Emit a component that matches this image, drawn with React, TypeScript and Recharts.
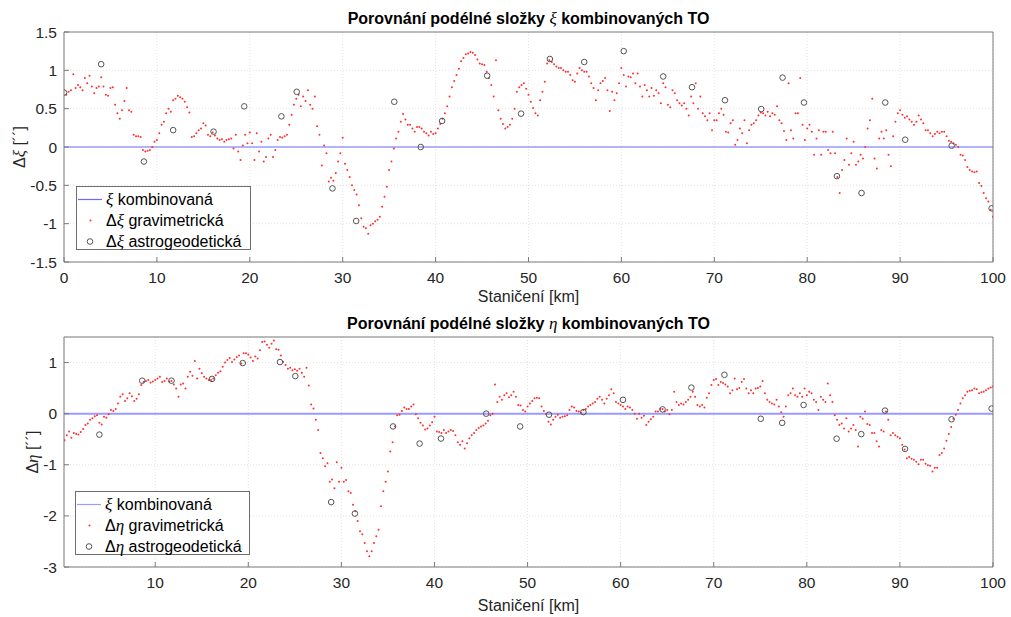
import React from 'react';
import { ComposedChart, Scatter, Line, XAxis, YAxis, CartesianGrid } from 'recharts';

const FONT = '"Liberation Sans", Arial, Helvetica, sans-serif';
const TEX = '"Liberation Serif", "DejaVu Serif", serif';

// gravimetrické body jsou po 0.25 km, první na 0.25 km
const GRAV_STEP = 0.25;

const astroStaniceni = [
  0.0, 4.0, 8.6, 11.75, 16.1, 19.4, 23.4, 25.05, 28.9, 31.45, 35.55, 38.4, 40.7, 45.55, 49.2,
  52.3, 56.0, 60.25, 64.5, 67.6, 71.15, 75.05, 77.35, 79.65, 83.2, 85.85, 88.4, 90.55, 95.55, 99.85,
];
const xiAstro = [
  0.71, 1.08, -0.19, 0.22, 0.2, 0.53, 0.4, 0.72, -0.54, -0.965, 0.59, 0.0, 0.34, 0.93, 0.435,
  1.148, 1.109, 1.25, 0.92, 0.78, 0.61, 0.495, 0.905, 0.58, -0.38, -0.6, 0.58, 0.095, 0.017, -0.8,
];
const etaAstro = [
  null, -0.41, 0.645, 0.645, 0.68, 0.99, 1.01, 0.735, -1.73, -1.955, -0.25, -0.585, -0.487, 0.0, -0.25,
  -0.02, 0.03, 0.27, 0.085, 0.51, 0.76, -0.1, -0.18, 0.17, -0.49, -0.4, 0.06, -0.69, -0.11, 0.1,
];

const xiGrav = [
  0.68, 0.72, 0.74, 0.95, 0.77, 0.81, 0.78, 0.74, 0.9, 0.83, 0.93, 0.79, 0.7, 0.77, 0.79, 0.91, 0.79, 0.68, 0.67, 0.77,
  0.78, 0.55, 0.44, 0.37, 0.48, 0.6, 0.77, 0.48, 0.46, 0.16, 0.14, 0.14, 0.13, -0.04, -0.06, -0.05, -0.04, 0.0, 0.07, 0.09,
  0.18, 0.29, 0.33, 0.44, 0.5, 0.46, 0.61, 0.63, 0.67, 0.65, 0.63, 0.59, 0.52, 0.45, 0.13, 0.14, 0.18, 0.22, 0.24, 0.31,
  0.28, 0.16, 0.14, 0.19, 0.15, 0.11, 0.09, 0.1, 0.07, 0.09, 0.1, 0.11, -0.02, 0.16, -0.06, -0.17, 0.02, 0.16, 0.05, 0.19,
  0.05, -0.17, 0.18, -0.06, 0.07, -0.19, -0.13, 0.11, 0.16, -0.13, -0.04, 0.09, 0.13, 0.12, 0.14, 0.16, 0.29, 0.42, 0.55, 0.63,
  0.68, 0.53, 0.66, 0.6, 0.74, 0.55, 0.5, 0.66, 0.27, 0.16, -0.24, 0.02, -0.08, -0.45, -0.4, -0.44, -0.34, -0.19, -0.08, 0.12,
  -0.22, -0.3, -0.39, -0.5, -0.56, -0.62, -0.76, -0.93, -1.04, -1.06, -1.13, -1.02, -1.0, -0.97, -0.95, -0.91, -0.78, -0.65, -0.52, -0.3,
  -0.19, -0.02, 0.11, 0.2, 0.33, 0.43, 0.36, 0.29, 0.29, 0.24, 0.2, 0.26, 0.26, 0.24, 0.2, 0.18, 0.15, 0.2, 0.17, 0.18,
  0.24, 0.3, 0.37, 0.44, 0.53, 0.66, 0.78, 0.86, 0.94, 1.02, 1.12, 1.16, 1.21, 1.22, 1.24, 1.23, 1.2, 1.14, 1.09, 1.08,
  1.07, 0.98, 0.9, 0.81, 0.66, 1.13, 0.48, 0.37, 0.3, 0.24, 0.26, 0.29, 0.37, 0.5, 0.72, 0.78, 0.81, 0.83, 0.76, 0.68,
  0.59, 0.51, 0.44, 0.41, 0.61, 0.72, 0.85, 1.09, 1.13, 1.11, 1.08, 1.05, 1.03, 1.03, 1.0, 0.98, 0.98, 0.94, 0.87, 0.85,
  0.96, 1.03, 1.0, 0.98, 0.98, 0.92, 0.83, 0.77, 0.61, 0.74, 0.83, 0.86, 0.9, 0.74, 0.47, 0.72, 0.61, 0.7, 0.83, 1.03,
  0.94, 0.79, 0.92, 0.91, 0.96, 0.83, 0.96, 0.79, 0.66, 0.81, 0.74, 0.66, 0.77, 0.67, 0.74, 0.7, 0.57, 0.83, 0.78, 0.55,
  0.52, 0.74, 0.7, 0.61, 0.57, 0.54, 0.57, 0.5, 0.41, 0.66, 0.57, 0.83, 0.5, 0.66, 0.44, 0.4, 0.35, 0.44, 0.22, 0.35,
  0.35, 0.44, 0.5, 0.42, 0.2, 0.19, 0.31, 0.35, 0.03, 0.09, 0.24, 0.18, 0.35, 0.05, 0.22, 0.29, 0.31, 0.35, 0.41, 0.45,
  0.44, 0.41, 0.46, 0.4, 0.44, 0.42, 0.53, 0.35, 0.31, 0.21, 0.09, 0.83, 0.22, 0.11, 0.44, 0.44, 0.9, 0.29, 0.09, 0.24,
  0.29, 0.2, -0.1, 0.11, 0.22, -0.1, 0.2, 0.2, -0.04, -0.08, 0.2, -0.08, -0.39, -0.6, -0.3, -0.17, 0.11, -0.23, -0.08, 0.07,
  -0.23, -0.19, -0.1, -0.15, 0.0, 0.24, 0.35, 0.63, -0.15, -0.28, 0.11, 0.2, 0.11, 0.22, -0.1, -0.25, 0.14, 0.33, 0.44, 0.48,
  0.42, 0.38, 0.4, 0.36, 0.33, 0.29, 0.33, 0.41, 0.36, 0.31, 0.22, 0.22, 0.18, 0.14, 0.17, 0.2, 0.18, 0.2, 0.2, 0.14,
  0.08, 0.07, 0.05, 0.03, 0.0, -0.1, -0.11, -0.17, -0.26, -0.3, -0.32, -0.33, -0.32, -0.47, -0.51, -0.6, -0.67, -0.71, -0.82, -0.91,
];

const etaGrav = [
  -0.52, -0.42, -0.35, -0.47, -0.38, -0.4, -0.41, -0.36, -0.3, -0.22, -0.19, -0.12, -0.09, -0.05, -0.03, -0.18, -0.21, -0.06, -0.08, -0.01,
  0.07, 0.05, 0.09, 0.2, 0.33, 0.38, 0.25, 0.3, 0.4, 0.34, 0.25, 0.29, 0.38, 0.56, 0.62, 0.64, 0.66, 0.61, 0.63, 0.66,
  0.69, 0.72, 0.62, 0.64, 0.69, 0.63, 0.64, 0.57, 0.49, 0.33, 0.57, 0.59, 0.49, 0.72, 0.82, 0.74, 1.03, 0.69, 0.88, 0.79,
  0.72, 0.69, 0.66, 0.66, 0.69, 0.75, 0.8, 0.83, 0.92, 1.0, 1.05, 1.09, 1.01, 1.06, 1.11, 1.14, 0.98, 1.18, 1.18, 1.16,
  1.1, 1.03, 1.12, 1.08, 1.24, 1.4, 1.41, 1.35, 1.29, 1.37, 1.43, 1.26, 1.25, 1.14, 1.01, 0.95, 0.88, 0.9, 0.85, 0.87,
  0.84, 0.88, 0.8, 0.72, 0.9, 0.55, 0.18, 0.1, -0.12, -0.32, -0.77, -0.87, -1.03, -0.97, -1.33, -1.29, -1.46, -0.95, -1.33, -1.06,
  -1.33, -1.3, -1.52, -1.55, -1.78, -1.91, -2.1, -2.3, -2.36, -2.53, -2.69, -2.79, -2.69, -2.53, -2.4, -2.27, -1.81, -1.52, -1.33, -1.13,
  -0.74, -0.56, -0.25, -0.03, -0.02, 0.05, 0.12, 0.09, 0.09, 0.14, 0.18, -0.01, -0.09, -0.18, -0.23, -0.31, -0.29, -0.23, -0.17, -0.06,
  -0.35, -0.36, -0.38, -0.32, -0.38, -0.35, -0.32, -0.34, -0.42, -0.56, -0.61, -0.54, -0.68, -0.58, -0.48, -0.42, -0.38, -0.32, -0.28, -0.25,
  -0.23, -0.19, -0.14, -0.03, 0.0, 0.57, 0.23, 0.33, 0.27, 0.36, 0.4, 0.32, 0.36, 0.43, 0.33, 0.17, 0.16, 0.07, 0.04, 0.14,
  0.2, 0.25, 0.3, 0.31, 0.3, 0.14, 0.05, -0.01, -0.16, -0.21, -0.12, -0.06, -0.02, -0.08, -0.06, -0.05, -0.03, 0.07, 0.14, 0.12,
  0.05, 0.04, 0.02, 0.07, 0.09, 0.14, 0.17, 0.2, 0.23, 0.29, 0.33, 0.27, 0.2, 0.29, 0.36, 0.48, 0.4, 0.23, 0.2, 0.17,
  0.14, 0.09, 0.14, 0.12, 0.07, 0.0, -0.1, 0.0, -0.08, -0.04, -0.22, -0.16, -0.11, -0.06, 0.04, 0.04, 0.09, 0.09, 0.04, 0.07,
  -0.01, 0.07, 0.43, 0.23, 0.17, 0.2, 0.18, 0.23, 0.27, 0.33, 0.43, 0.33, 0.17, 0.14, 0.17, 0.12, 0.31, 0.4, 0.56, 0.66,
  0.68, 0.56, 0.62, 0.6, 0.57, 0.53, 0.4, 0.46, 0.69, 0.48, 0.5, 0.62, 0.68, 0.49, 0.4, 0.46, 0.4, 0.49, 0.5, 0.53,
  0.64, 0.4, 0.27, 0.23, 0.2, 0.18, 0.27, 0.14, 0.03, -0.06, 0.14, 0.36, 0.4, 0.49, 0.36, 0.33, 0.4, 0.33, 0.49, 0.36,
  0.43, 0.4, 0.27, 0.23, 0.07, 0.33, 0.27, 0.23, 0.59, 0.36, 0.23, -0.03, -0.12, -0.22, -0.19, -0.29, -0.09, -0.35, -0.29, -0.22,
  -0.32, -0.64, -0.06, -0.1, 0.04, -0.2, -0.22, -0.38, -0.38, -0.54, -0.64, -0.32, -0.35, 0.04, -0.12, -0.42, -0.38, -0.42, -0.45, -0.48,
  -0.61, -0.7, -0.87, -0.85, -0.88, -0.9, -0.94, -0.99, -0.9, -0.9, -0.98, -1.01, -1.02, -1.13, -1.06, -1.06, -0.81, -0.77, -0.68, -0.53,
  -0.4, -0.26, -0.1, -0.02, 0.07, 0.2, 0.3, 0.36, 0.43, 0.45, 0.46, 0.49, 0.48, 0.4, 0.42, 0.43, 0.46, 0.49, 0.51, 0.53,
];

// ξ kombinovaná – rozdíl sama se sebou, tedy nulová čára
const kombX = [0, 100];
const kombY = [0, 0];

const xTicksXi = [0, 10, 20, 30, 40, 50, 60, 70, 80, 90, 100];
const xTicksEta = [10, 20, 30, 40, 50, 60, 70, 80, 90, 100];
const yTicksXi = [-1.5, -1, -0.5, 0, 0.5, 1, 1.5];
const yTicksEta = [-3, -2, -1, 0, 1];

const toGravRows = (vals: number[]) => vals.map((y, i) => ({ x: (i + 1) * GRAV_STEP, y }));
const toAstroRows = (vals: (number | null)[]) =>
  astroStaniceni.map((x, i) => ({ x, y: vals[i] })).filter((r) => r.y !== null);
const kombRows = kombX.map((x, i) => ({ x, y: kombY[i] }));

const AXIS = '#7a7a7a';
const RED = '#ff3030';

const RedDot = (p: any) => <circle cx={p.cx} cy={p.cy} r={1} fill={RED} />;
const Ring = (p: any) => <circle cx={p.cx} cy={p.cy} r={2.8} fill="none" stroke="#555" strokeWidth={1} />;

type PanelProps = {
  top: number;
  height: number;
  margin: { top: number; right: number; bottom: number; left: number };
  xDomain: [number, number];
  xTicks: number[];
  yDomain: [number, number];
  yTicks: number[];
  grav: number[];
  astro: (number | null)[];
  lineColor: string;
  lineWidth: number;
};

const Panel = ({ top, height, margin, xDomain, xTicks, yDomain, yTicks, grav, astro, lineColor, lineWidth }: PanelProps) => {
  const tickStyle = { fill: '#262626', fontSize: 15.5, fontFamily: FONT };
  return (
    <div style={{ position: 'absolute', left: 0, top }}>
      <ComposedChart width={1011} height={height} margin={margin}>
        <CartesianGrid stroke="#e2e2e2" strokeDasharray="1 2" />
        <XAxis
          dataKey="x" type="number" domain={xDomain} ticks={xTicks} allowDataOverflow interval={0}
          height={30} tickSize={-5} tickMargin={15} tick={tickStyle} stroke={AXIS}
        />
        <XAxis
          xAxisId="top" orientation="top" mirror type="number" domain={xDomain} ticks={xTicks}
          allowDataOverflow interval={0} tick={false} tickSize={5} stroke={AXIS}
        />
        <YAxis
          type="number" domain={yDomain} ticks={yTicks} allowDataOverflow interval={0}
          width={56} tickSize={-5} tickMargin={12} tick={tickStyle} stroke={AXIS}
        />
        <YAxis
          yAxisId="right" orientation="right" mirror type="number" domain={yDomain} ticks={yTicks}
          allowDataOverflow interval={0} tick={false} tickSize={5} stroke={AXIS}
        />
        <Line data={kombRows} dataKey="y" stroke={lineColor} strokeWidth={lineWidth} dot={false} isAnimationActive={false} />
        <Scatter data={toGravRows(grav)} dataKey="y" shape={RedDot} isAnimationActive={false} />
        <Scatter data={toAstroRows(astro)} dataKey="y" shape={Ring} isAnimationActive={false} />
      </ComposedChart>
    </div>
  );
};

const Title = ({ y, sym }: { y: number; sym: string }) => (
  <div
    style={{
      position: 'absolute', left: 64, width: 929, top: y - 9, lineHeight: '18px', textAlign: 'center',
      fontFamily: FONT, fontWeight: 'bold', fontSize: 16, color: '#000', whiteSpace: 'nowrap',
    }}
  >
    Porovnání podélné složky <span style={{ fontFamily: TEX, fontStyle: 'italic', fontWeight: 'normal', fontSize: 17 }}>{sym}</span> kombinovaných TO
  </div>
);

const XLabel = ({ y }: { y: number }) => (
  <div
    style={{
      position: 'absolute', left: 64, width: 929, top: y - 9, lineHeight: '18px', textAlign: 'center',
      fontFamily: FONT, fontSize: 16, color: '#262626',
    }}
  >
    Staničení [km]
  </div>
);

const YLabel = ({ x, y, sym }: { x: number; y: number; sym: string }) => (
  <div
    style={{
      position: 'absolute', left: x, top: y, transform: 'translate(-50%, -50%) rotate(-90deg)',
      fontFamily: FONT, fontSize: 16, color: '#262626', whiteSpace: 'nowrap', lineHeight: '18px',
    }}
  >
    Δ<span style={{ fontFamily: TEX, fontStyle: 'italic', fontSize: 17 }}>{sym}</span> [´´]
  </div>
);

const LegendBox = ({ x, y, sym, lineColor }: { x: number; y: number; sym: string; lineColor: string }) => {
  const greek = { fontFamily: TEX, fontStyle: 'italic' as const, fontSize: 17 };
  const row = (i: number, marker: React.ReactNode, label: React.ReactNode) => (
    <div style={{ position: 'absolute', left: 0, top: 2 + i * 21, height: 21, width: '100%', display: 'flex', alignItems: 'center' }}>
      <svg width={28} height={21} style={{ flex: 'none' }}>{marker}</svg>
      <span style={{ fontFamily: FONT, fontSize: 16, color: '#000', whiteSpace: 'nowrap', marginLeft: 1 }}>{label}</span>
    </div>
  );
  return (
    <div
      style={{
        position: 'absolute', left: x, top: y, width: 175, height: 64, boxSizing: 'border-box',
        border: '1px solid #6e6e6e', background: '#fff',
      }}
    >
      {row(0, <line x1={1} y1={10.5} x2={25} y2={10.5} stroke={lineColor} strokeWidth={1.2} />, <><span style={greek}>ξ</span> kombinovaná</>)}
      {row(1, <circle cx={13.5} cy={10.5} r={1} fill={RED} />, <>Δ<span style={greek}>{sym}</span> gravimetrická</>)}
      {row(2, <circle cx={13} cy={10.5} r={2.8} fill="none" stroke="#555" />, <>Δ<span style={greek}>{sym}</span> astrogeodetická</>)}
    </div>
  );
};

export default function App() {
  return (
    <div style={{ position: 'absolute', left: 0, top: 0, width: 1011, height: 617, background: '#fff', overflow: 'hidden' }}>
      <Panel
        top={0} height={310} margin={{ top: 32, right: 18, bottom: 18, left: 8 }}
        xDomain={[0, 100]} xTicks={xTicksXi} yDomain={[-1.5, 1.5]} yTicks={yTicksXi}
        grav={xiGrav} astro={xiAstro} lineColor="#6a6aff" lineWidth={1.2}
      />
      <Panel
        top={310} height={307} margin={{ top: 27, right: 18, bottom: 20, left: 8 }}
        xDomain={[0.2, 100]} xTicks={xTicksEta} yDomain={[-3, 1.5]} yTicks={yTicksEta}
        grav={etaGrav} astro={etaAstro} lineColor="#9a9aff" lineWidth={2}
      />
      <Title y={19} sym="ξ" />
      <Title y={324} sym="η" />
      <XLabel y={297} />
      <XLabel y={606} />
      <YLabel x={20} y={147} sym="ξ" />
      <YLabel x={33} y={452} sym="η" />
      <LegendBox x={76} y={186} sym="ξ" lineColor="#6a6aff" />
      <LegendBox x={75} y={491} sym="η" lineColor="#9a9aff" />
    </div>
  );
}
